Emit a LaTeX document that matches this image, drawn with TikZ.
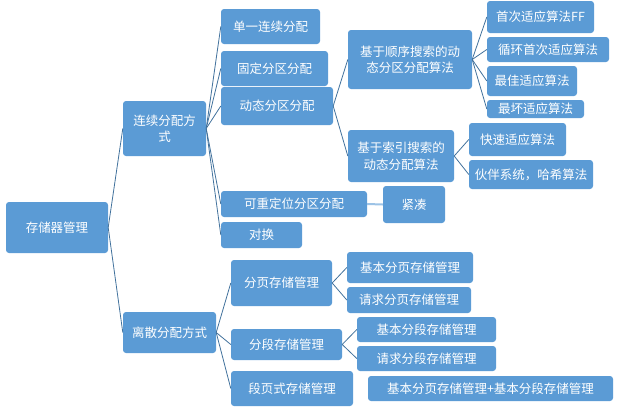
\documentclass[tikz,border=0pt]{standalone}
\usepackage{fontspec}
\setmainfont{Noto Sans CJK SC}
\begin{document}
\begin{tikzpicture}[x=1pt,y=-1pt,
  box/.style={draw=none,fill=boxblue,rounded corners=3pt,text=white,inner sep=0pt,
    font=\fontsize{12.5}{16.5}\selectfont,align=center},
  link/.style={draw=lineblue,line width=0.8pt},
  thick link/.style={draw=lightblue,line width=2pt}]
\definecolor{boxblue}{HTML}{5B9BD5}
\definecolor{lineblue}{HTML}{41719C}
\definecolor{lightblue}{HTML}{9DC3E6}
\useasboundingbox (0,0) rectangle (619,407);
\newcommand{\bx}[6]{\node[box,minimum width=#4pt,minimum height=#5pt] (#1) at (#2,#3) {#6};}
\bx{root}{57}{227.5}{102}{51}{存储器管理}
\bx{lianxu}{164.5}{128.5}{83}{55}{连续分配方\\式}
\bx{lisan}{169.5}{332.5}{93}{41}{离散分配方式}
\bx{danyi}{270.5}{26.5}{99}{35}{单一连续分配}
\bx{guding}{274.5}{68.5}{107}{35}{固定分区分配}
\bx{dongtai}{277}{106}{112}{38}{动态分区分配}
\bx{kechong}{294}{204}{146}{26}{可重定位分区分配}
\bx{duihuan}{261.5}{235}{81}{26}{对换}
\bx{fenye}{281.5}{283}{101}{46}{分页存储管理}
\bx{fenduan}{286.5}{344.5}{111}{31}{分段存储管理}
\bx{duanye}{292}{388.5}{122}{35}{段页式存储管理}
\bx{shunxu}{410}{59.5}{124}{59}{基于顺序搜索的动\\态分区分配算法}
\bx{suoyin}{401}{156}{106}{52}{基于索引搜索的\\动态分配算法}
\bx{shouci}{540.5}{17}{107}{32}{首次适应算法FF}
\bx{xunhuan}{548}{49.5}{122}{25}{循环首次适应算法}
\bx{zuijia}{532}{81}{90}{30}{最佳适应算法}
\bx{zuihuai}{535.5}{109}{97}{18}{最坏适应算法}
\bx{kuaisu}{517.5}{139.5}{97}{33}{快速适应算法}
\bx{huoban}{531}{174.5}{124}{29}{伙伴系统，哈希算法}
\bx{jincou}{414}{204.5}{62}{37}{紧凑}
\bx{jbfy}{410}{267.5}{126}{31}{基本分页存储管理}
\bx{qqfy}{409}{300}{124}{26}{请求分页存储管理}
\bx{jbfd}{426.5}{329.5}{139}{25}{基本分段存储管理}
\bx{qqfd}{426.5}{358.5}{139}{25}{请求分段存储管理}
\bx{combo}{490.5}{388.5}{245}{25}{基本分页存储管理+基本分段存储管理}
\foreach \c in {lianxu,lisan} \draw[link] (root.east) -- (\c.west);
\foreach \c in {danyi,guding,dongtai,kechong,duihuan} \draw[link] (lianxu.east) -- (\c.west);
\foreach \c in {fenye,fenduan,duanye} \draw[link] (lisan.east) -- (\c.west);
\foreach \c in {shunxu,suoyin} \draw[link] (dongtai.east) -- (\c.west);
\foreach \c in {shouci,xunhuan,zuijia,zuihuai} \draw[link] (shunxu.east) -- (\c.west);
\foreach \c in {kuaisu,huoban} \draw[link] (suoyin.east) -- (\c.west);
\foreach \c in {jbfy,qqfy} \draw[link] (fenye.east) -- (\c.west);
\foreach \c in {jbfd,qqfd} \draw[link] (fenduan.east) -- (\c.west);
\draw[thick link] (kechong.east) -- (jincou.west);
\end{tikzpicture}
\end{document}
